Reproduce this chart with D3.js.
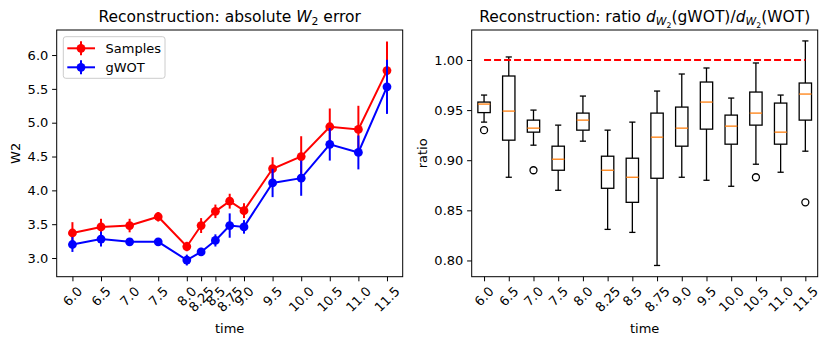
<!DOCTYPE html>
<html><head><meta charset="utf-8">
<script src="https://cdn.jsdelivr.net/npm/d3@7"></script>
<style>body{margin:0;background:#fff}svg{display:block}text{font-family:"DejaVu Sans",sans-serif}</style>
</head><body><svg id="c" width="830" height="343"></svg>
<script>
// ---- data ----
const times = [6.0,6.5,7.0,7.5,8.0,8.25,8.5,8.75,9.0,9.5,10.0,10.5,11.0,11.5];
const timeLabels = ["6.0","6.5","7.0","7.5","8.0","8.25","8.5","8.75","9.0","9.5","10.0","10.5","11.0","11.5"];
const samplesMean = [3.37,3.46,3.48,3.61,3.17,3.48,3.69,3.84,3.70,4.32,4.50,4.94,4.90,5.77];
const samplesErr  = [0.16,0.12,0.10,0.07,0.07,0.11,0.10,0.11,0.11,0.17,0.30,0.27,0.35,0.43];
const gwotMean    = [3.20,3.28,3.24,3.24,2.97,3.09,3.26,3.48,3.46,4.11,4.18,4.68,4.56,5.53];
const gwotErr     = [0.11,0.11,0.05,0.05,0.08,0.06,0.09,0.18,0.10,0.21,0.26,0.24,0.25,0.40];
const leftYTicks  = [3.0,3.5,4.0,4.5,5.0,5.5,6.0];

const boxLow  = [0.938,0.883,0.915,0.870,0.919,0.831,0.828,0.795,0.883,0.880,0.874,0.896,0.888,0.909];
const boxQ1   = [0.9475,0.920,0.928,0.890,0.930,0.872,0.858,0.882,0.914,0.931,0.916,0.935,0.916,0.940];
const boxMed  = [0.956,0.949,0.932,0.901,0.940,0.890,0.883,0.923,0.932,0.958,0.934,0.947,0.928,0.966];
const boxQ3   = [0.958,0.984,0.940,0.914,0.947,0.904,0.902,0.947,0.953,0.978,0.945,0.968,0.957,0.977];
const boxHigh = [0.965,1.003,0.950,0.935,0.964,0.930,0.938,0.969,0.986,0.992,0.962,0.997,0.965,1.019];
const boxOutliers = [[0.930],[],[0.890],[],[],[],[],[],[],[],[],[0.883],[],[0.858]];
const rightYTicks = [0.80,0.85,0.90,0.95,1.00];
const refLine = 1.0;

// ---- layout ----
const svg = d3.select("#c");
const FS = 13, TFS = 15.5;
const L = {x0:56.7, x1:402.7, y0:30, y1:276.7};
const R = {x0:471.7, x1:817.7, y0:30, y1:276.7};
const xL = d3.scaleLinear().domain([5.725,11.775]).range([L.x0,L.x1]);
const yL = d3.scaleLinear().domain([2.724,6.37]).range([L.y1,L.y0]);
const xR = d3.scaleLinear().domain([0.5,14.5]).range([R.x0,R.x1]);
const yR = d3.scaleLinear().domain([0.7838,1.0299]).range([R.y1,R.y0]);

function axes(box, x, y, xticks, xlabels, yticks, yfmt, ylabel, ylabelX) {
  const gy = svg.append("g").attr("transform",`translate(${box.x0},0)`)
    .call(d3.axisLeft(y).tickValues(yticks).tickFormat(yfmt).tickSize(4.6).tickPadding(3.8));
  gy.select(".domain").remove();
  gy.attr("font-size",FS).attr("font-family","DejaVu Sans");
  gy.selectAll("text").attr("fill","#000");
  gy.selectAll("line").attr("stroke","#000").attr("stroke-width",1);
  const gx = svg.append("g").attr("transform",`translate(0,${box.y1})`)
    .call(d3.axisBottom(x).tickValues(xticks).tickFormat("").tickSize(4.6));
  gx.select(".domain").remove();
  gx.selectAll("line").attr("stroke","#000").attr("stroke-width",1);
  const top = box.y1 + 4.6 + 4.2;
  xticks.forEach((t,i)=>{
    const tx = svg.append("text").text(xlabels[i]).attr("font-size",FS)
      .attr("text-anchor","middle").attr("dy","0.36em");
    const w = tx.node().getComputedTextLength();
    const h = FS*0.75;
    const bh = (w+h)*Math.SQRT1_2;
    tx.attr("transform",`translate(${x(t)},${top+bh/2}) rotate(-45)`);
  });
  svg.append("text").text("time").attr("font-size",FS).attr("text-anchor","middle")
    .attr("x",(box.x0+box.x1)/2).attr("y",333);
  svg.append("text").text(ylabel).attr("font-size",FS).attr("text-anchor","middle")
    .attr("transform",`translate(${ylabelX},${(box.y0+box.y1)/2}) rotate(-90)`);
}

function title(cx, parts) {
  const t = svg.append("text").attr("x",cx).attr("y",21.5).attr("text-anchor","middle").attr("font-size",TFS);
  let lvl = 0;
  const off = [0,3.6,6.0];
  const sz = [TFS, TFS*0.7, TFS*0.5];
  parts.forEach(p=>{
    const l = p.l||0;
    t.append("tspan").text(p.t).attr("dy", off[l]-off[lvl])
      .attr("font-size", sz[l]).attr("font-style", p.i?"italic":"normal");
    lvl = l;
  });
}

// ---- left chart ----
axes(L, xL, yL, times, timeLabels, leftYTicks, d3.format(".1f"), "W2", 20);
function series(mean, err, color) {
  const g = svg.append("g");
  g.selectAll("line.e").data(times).join("line")
    .attr("x1",(d)=>xL(d)).attr("x2",(d)=>xL(d))
    .attr("y1",(d,i)=>yL(mean[i]-err[i])).attr("y2",(d,i)=>yL(mean[i]+err[i]))
    .attr("stroke",color).attr("stroke-width",2);
  g.append("path").datum(times)
    .attr("d", d3.line().x(d=>xL(d)).y((d,i)=>yL(mean[i])))
    .attr("fill","none").attr("stroke",color).attr("stroke-width",2);
  g.selectAll("circle").data(times).join("circle")
    .attr("cx",d=>xL(d)).attr("cy",(d,i)=>yL(mean[i])).attr("r",4.4).attr("fill",color);
}
series(samplesMean, samplesErr, "#ff0000");
series(gwotMean, gwotErr, "#0000ff");

// legend
const lg = svg.append("g");
lg.append("rect").attr("x",63.3).attr("y",36.7).attr("width",101.7).attr("height",41.6)
  .attr("rx",2.5).attr("fill","#fff").attr("fill-opacity",0.8).attr("stroke","#cccccc").attr("stroke-width",1);
[["Samples","#ff0000",48.3],["gWOT","#0000ff",67.3]].forEach(([name,c,y])=>{
  lg.append("line").attr("x1",67.3).attr("x2",95).attr("y1",y).attr("y2",y).attr("stroke",c).attr("stroke-width",2);
  lg.append("line").attr("x1",81).attr("x2",81).attr("y1",y-7).attr("y2",y+7).attr("stroke",c).attr("stroke-width",2);
  lg.append("circle").attr("cx",81).attr("cy",y).attr("r",4.4).attr("fill",c);
  lg.append("text").text(name).attr("x",105.5).attr("y",y+4.7).attr("font-size",FS);
});

title((L.x0+L.x1)/2, [{t:"Reconstruction: absolute "},{t:"W",i:true},{t:"2",l:1},{t:" error",l:0}]);

// ---- right chart ----
const pos = boxMed.map((d,i)=>i+1);
axes(R, xR, yR, pos, timeLabels, rightYTicks, d3.format(".2f"), "ratio", 426.5);
const gb = svg.append("g").attr("stroke-width",1.3);
pos.forEach((p,i)=>{
  const xc = xR(p), hw = (xR(p+0.25)-xR(p-0.25))/2, cw = hw/2;
  gb.append("line").attr("x1",xc).attr("x2",xc).attr("y1",yR(boxLow[i])).attr("y2",yR(boxQ1[i])).attr("stroke","#000");
  gb.append("line").attr("x1",xc).attr("x2",xc).attr("y1",yR(boxQ3[i])).attr("y2",yR(boxHigh[i])).attr("stroke","#000");
  gb.append("line").attr("x1",xc-cw).attr("x2",xc+cw).attr("y1",yR(boxLow[i])).attr("y2",yR(boxLow[i])).attr("stroke","#000");
  gb.append("line").attr("x1",xc-cw).attr("x2",xc+cw).attr("y1",yR(boxHigh[i])).attr("y2",yR(boxHigh[i])).attr("stroke","#000");
  gb.append("rect").attr("x",xc-hw).attr("width",2*hw).attr("y",yR(boxQ3[i])).attr("height",yR(boxQ1[i])-yR(boxQ3[i]))
    .attr("fill","none").attr("stroke","#000");
  gb.append("line").attr("x1",xc-hw).attr("x2",xc+hw).attr("y1",yR(boxMed[i])).attr("y2",yR(boxMed[i])).attr("stroke","#ff7f0e");
  boxOutliers[i].forEach(o=>{
    gb.append("circle").attr("cx",xc).attr("cy",yR(o)).attr("r",3.5).attr("fill","none").attr("stroke","#000");
  });
});
svg.append("line").attr("x1",xR(1)).attr("x2",xR(14)).attr("y1",yR(refLine)).attr("y2",yR(refLine))
  .attr("stroke","#ff0000").attr("stroke-width",2).attr("stroke-dasharray","7,3");

title((R.x0+R.x1)/2, [{t:"Reconstruction: ratio "},{t:"d",i:true},{t:"W",i:true,l:1},{t:"2",l:2},{t:"(gWOT)/",l:0},
  {t:"d",i:true},{t:"W",i:true,l:1},{t:"2",l:2},{t:"(WOT)",l:0}]);

// frames
[L,R].forEach(b=>{
  svg.append("rect").attr("x",b.x0).attr("y",b.y0).attr("width",b.x1-b.x0).attr("height",b.y1-b.y0)
    .attr("fill","none").attr("stroke","#000").attr("stroke-width",1);
});
</script></body></html>
